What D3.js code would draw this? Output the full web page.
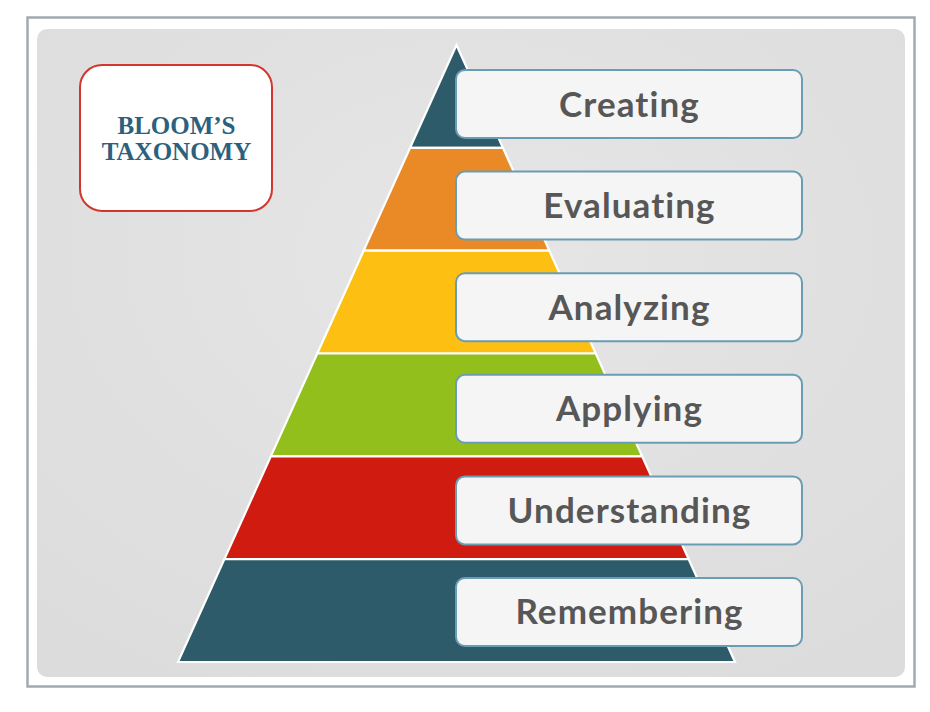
<!DOCTYPE html>
<html>
<head>
<meta charset="utf-8">
<script src="https://cdn.jsdelivr.net/npm/d3@7"></script>
<style>
  html, body { margin: 0; padding: 0; background: #ffffff; }
  svg { display: block; }
</style>
</head>
<body>
<svg id="chart" width="930" height="712"></svg>
<script>
// ---- data ----
const levels = ["Creating", "Evaluating", "Analyzing", "Applying", "Understanding", "Remembering"];
const levelColors = ["#2e5b6a", "#e98a27", "#fdbf12", "#92bf1b", "#d01b10", "#2e5b6a"];
const titleLines = ["BLOOM\u2019S", "TAXONOMY"];

// ---- drawing ----
const svg = d3.select("#chart");

// outer frame
svg.append("rect")
  .attr("x", 27.5).attr("y", 17.5).attr("width", 887).attr("height", 669)
  .attr("fill", "#ffffff").attr("stroke", "#a3a9b1").attr("stroke-width", 2.5);

// panel background with soft gradient
const defs = svg.append("defs");
const grad = defs.append("radialGradient").attr("id", "panelGrad")
  .attr("cx", "50%").attr("cy", "35%").attr("r", "75%");
grad.append("stop").attr("offset", "0%").attr("stop-color", "#e6e6e6");
grad.append("stop").attr("offset", "100%").attr("stop-color", "#dcdcdc");

svg.append("rect")
  .attr("x", 37).attr("y", 29).attr("width", 868).attr("height", 648)
  .attr("rx", 10).attr("ry", 10)
  .attr("fill", "url(#panelGrad)");

// pyramid scales
const n = levels.length;
const y = d3.scaleLinear().domain([0, n]).range([45, 662]);
const x = d3.scaleLinear().domain([-1, 1]).range([178, 735]);

const bands = levels.map((name, i) => {
  const f0 = i / n, f1 = (i + 1) / n;
  return {
    name,
    color: levelColors[i],
    pts: [[x(-f0), y(i)], [x(f0), y(i)], [x(f1), y(i + 1)], [x(-f1), y(i + 1)]]
  };
});

const line = d3.line();
svg.append("g").selectAll("path")
  .data(bands)
  .join("path")
  .attr("d", d => line(d.pts) + "Z")
  .attr("fill", d => d.color)
  .attr("stroke", "#ffffff")
  .attr("stroke-width", 2.2)
  .attr("stroke-linejoin", "miter");

// label boxes
const boxY = d3.scaleBand().domain(levels).range([70, 646]).paddingInner(0.3307).paddingOuter(0);
const boxX0 = 456, boxX1 = 802;

const labels = svg.append("g").selectAll("g")
  .data(levels)
  .join("g")
  .attr("transform", d => `translate(0,${boxY(d)})`);

labels.append("rect")
  .attr("x", boxX0).attr("y", 0)
  .attr("width", boxX1 - boxX0).attr("height", boxY.bandwidth())
  .attr("rx", 9).attr("ry", 9)
  .attr("fill", "#f5f5f5")
  .attr("stroke", "#6a9db3")
  .attr("stroke-width", 2);

labels.append("text")
  .attr("x", (boxX0 + boxX1) / 2 + 0.5)
  .attr("y", boxY.bandwidth() / 2 + 12.5)
  .attr("text-anchor", "middle")
  .attr("font-family", "Lato, 'Open Sans', sans-serif")
  .attr("font-weight", 700)
  .attr("font-size", 35)
  .attr("letter-spacing", 1.1)
  .attr("fill", "#575757")
  .text(d => d);

// title box
const tb = svg.append("g");
tb.append("rect")
  .attr("x", 80).attr("y", 65).attr("width", 192).attr("height", 146)
  .attr("rx", 22).attr("ry", 22)
  .attr("fill", "#ffffff")
  .attr("stroke", "#d3362c")
  .attr("stroke-width", 2);

tb.selectAll("text")
  .data(titleLines)
  .join("text")
  .attr("x", 176.5)
  .attr("y", (d, i) => 134 + i * 26)
  .attr("text-anchor", "middle")
  .attr("font-family", "'Liberation Serif', 'DejaVu Serif', serif")
  .attr("font-weight", 700)
  .attr("font-size", 25)
  .attr("fill", "#2b617d")
  .text(d => d);
</script>
</body>
</html>
